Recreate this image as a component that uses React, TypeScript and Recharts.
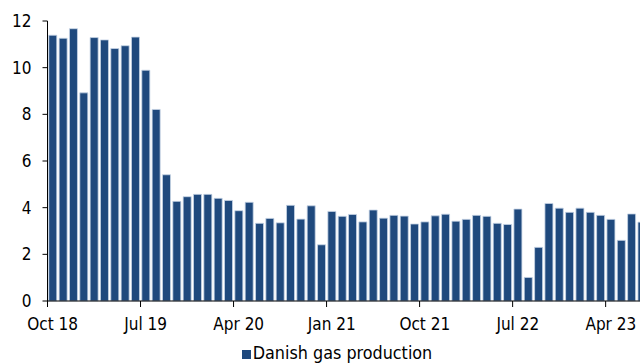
import React from "react";
import { BarChart, Bar, XAxis, YAxis, Legend } from "recharts";

const BLUE = "#1F497D";
const SERIES_NAME = "Danish gas production";

const months = [
  "Oct 18", "Nov 18", "Dec 18", "Jan 19", "Feb 19", "Mar 19", "Apr 19", "May 19", "Jun 19",
  "Jul 19", "Aug 19", "Sep 19", "Oct 19", "Nov 19", "Dec 19", "Jan 20", "Feb 20", "Mar 20",
  "Apr 20", "May 20", "Jun 20", "Jul 20", "Aug 20", "Sep 20", "Oct 20", "Nov 20", "Dec 20",
  "Jan 21", "Feb 21", "Mar 21", "Apr 21", "May 21", "Jun 21", "Jul 21", "Aug 21", "Sep 21",
  "Oct 21", "Nov 21", "Dec 21", "Jan 22", "Feb 22", "Mar 22", "Apr 22", "May 22", "Jun 22",
  "Jul 22", "Aug 22", "Sep 22", "Oct 22", "Nov 22", "Dec 22", "Jan 23", "Feb 23", "Mar 23",
  "Apr 23", "May 23", "Jun 23", "Jul 23",
];

const production = [
  11.39, 11.26, 11.67, 8.92, 11.29, 11.19, 10.82, 10.94, 11.31,
  9.89, 8.21, 5.41, 4.27, 4.47, 4.57, 4.57, 4.4, 4.31,
  3.87, 4.23, 3.33, 3.54, 3.35, 4.1, 3.51, 4.08, 2.41,
  3.84, 3.63, 3.71, 3.39, 3.9, 3.55, 3.67, 3.64, 3.3,
  3.39, 3.65, 3.72, 3.42, 3.5, 3.67, 3.63, 3.33, 3.28,
  3.94, 1.01, 2.3, 4.18, 3.98, 3.8, 3.98, 3.8, 3.67,
  3.5, 2.6, 3.73, 3.38,
];

const yTicks = [0, 2, 4, 6, 8, 10, 12];

const data = months.map((m, i) => ({ month: m, value: production[i] }));

// tick mark sits on the left edge of the month's band, label stays centred
function MonthTick(props: any) {
  const { x, y, payload } = props;
  const half = payload && payload.offset ? payload.offset : 5.17;
  return (
    <g>
      <line x1={x - half} x2={x - half} y1={y - 17} y2={y - 11} stroke="#000" />
      <text x={x} y={y} dy="0.71em" textAnchor="middle" fontSize={17} fill="#000">
        {payload.value}
      </text>
    </g>
  );
}

function LegendBox() {
  return (
    <div style={{ textAlign: "center", fontSize: 17.8, lineHeight: "20px", color: "#000" }}>
      <span
        style={{ display: "inline-block", width: 9, height: 9, background: BLUE, marginRight: 2 }}
      />
      {SERIES_NAME}
    </div>
  );
}

export default function App() {
  return (
    <div
      style={{
        position: "absolute",
        left: 0,
        top: 0,
        width: 640,
        height: 363,
        overflow: "hidden",
        background: "#fff",
        fontFamily: "'DejaVu Sans Condensed', 'DejaVu Sans', sans-serif",
        fontStretch: "condensed",
      }}
    >
      <BarChart
        width={680}
        height={363}
        data={data}
        margin={{ top: 21, right: 33, left: 0, bottom: 0 }}
        barCategoryGap="12.5%"
      >
        <XAxis
          dataKey="month"
          interval={8}
          height={42}
          stroke="#000"
          tickLine={false}
          tickSize={6}
          tickMargin={11}
          tick={<MonthTick />}
        />
        <YAxis
          width={47.5}
          domain={[0, 12]}
          ticks={yTicks}
          stroke="#000"
          tickSize={5}
          tickMargin={11}
          tick={{ fill: "#000", fontSize: 17 }}
        />
        <Legend verticalAlign="bottom" wrapperStyle={{ left: 0, width: 674 }} content={<LegendBox />} />
        <Bar
          dataKey="value"
          name={SERIES_NAME}
          fill={BLUE}
          stroke="#c6d4e6"
          strokeWidth={0.8}
          isAnimationActive={false}
        />
      </BarChart>
    </div>
  );
}
